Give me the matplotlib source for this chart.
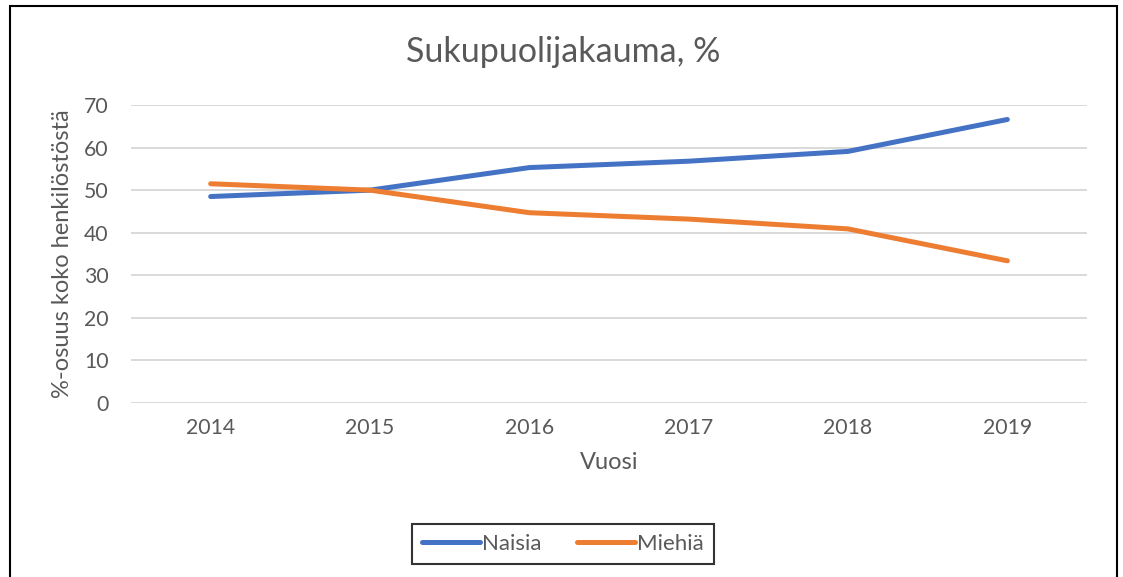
import matplotlib
matplotlib.use("Agg")
import matplotlib.pyplot as plt
from matplotlib.patches import Rectangle

years = ["2014", "2015", "2016", "2017", "2018", "2019"]
naisia = [48.5, 50.0, 55.3, 56.8, 59.1, 66.6]
miehia = [51.5, 50.0, 44.7, 43.2, 40.9, 33.4]
yticks = [0, 10, 20, 30, 40, 50, 60, 70]

plt.rcParams["font.family"] = ["Lato", "DejaVu Sans"]
grey = "#595959"

fig = plt.figure(figsize=(11.23, 5.77), dpi=100)
ax = fig.add_axes([131 / 1123, 1 - 403 / 577, (1087 - 131) / 1123, (403 - 105) / 577])

x = list(range(len(years)))
ax.plot(x, naisia, color="#4472C4", lw=3.6, solid_capstyle="round", label="Naisia")
ax.plot(x, miehia, color="#ED7D31", lw=3.6, solid_capstyle="round", label="Miehiä")

ax.set_xlim(-0.5, len(years) - 0.5)
ax.set_ylim(0, 70)
ax.set_yticks(yticks)
ax.set_xticks(x, years)
ax.grid(axis="y", color="#D9D9D9", lw=1.4)
ax.set_axisbelow(True)
for s in ax.spines.values():
    s.set_visible(False)
ax.tick_params(length=0, labelsize=15.3, colors=grey, pad=16)
ax.tick_params(axis="x", pad=11)

ax.set_xlabel("Vuosi", fontsize=17, color=grey, labelpad=10)
ax.set_ylabel("%-osuus koko henkilöstöstä", fontsize=17, color=grey, labelpad=8)
fig.text(563 / 1123, 1 - 52 / 577, "Sukupuolijakauma, %", ha="center", va="center",
         fontsize=24.5, color=grey)

leg = fig.legend(loc="center", bbox_to_anchor=(563 / 1123, 1 - 544 / 577), ncol=2,
                 frameon=True, fancybox=False, fontsize=16, handlelength=2.6,
                 handletextpad=0.1, columnspacing=1.6, borderpad=0.45)
leg.get_frame().set_edgecolor("black")
leg.get_frame().set_linewidth(1.5)
for t in leg.get_texts():
    t.set_color(grey)

fig.patches.append(Rectangle((10 / 1123, -0.05), (1117 - 10) / 1123, 1.05 - 6 / 577,
                             transform=fig.transFigure, fill=False, ec="black", lw=1.5))

fig.savefig("out.png", dpi=100)
